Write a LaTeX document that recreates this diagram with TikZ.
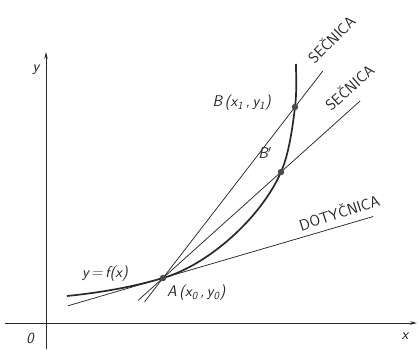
\documentclass[tikz,border=0pt]{standalone}
\usepackage{tikz}
\usetikzlibrary{arrows.meta,calc,positioning}
\definecolor{inkline}{RGB}{40,40,40}
\definecolor{inkdot}{RGB}{75,75,75}
\tikzset{
  axisline/.style={line width=0.9pt,inkline,-{Stealth[length=7pt,width=3.5pt]}},
  thinline/.style={line width=0.75pt,inkline},
  graphline/.style={line width=1.7pt,inkline},
  pointdot/.style={circle,fill=inkdot,inner sep=0pt,minimum size=6.5pt},
  lbl/.style={font=\fontsize{15.5}{18}\selectfont\sffamily\slshape,inkline,inner sep=1pt},
  linelbl/.style={font=\fontsize{15.5}{18}\selectfont\sffamily,inkline,inner sep=1pt}
}
\begin{document}
\begin{tikzpicture}[x=1pt,y=1pt]
  \useasboundingbox (-46,-26) rectangle (373,323);
  \coordinate (O) at (0,0);
  \coordinate (S) at (21,27);
  \coordinate (A) at (117,45);
  \coordinate (Bp) at (235,151);
  \coordinate (B) at (249,216);
  \coordinate (E) at (250,259);
  % axes
  \draw[axisline] (-41,0) -- (371,0);
  \draw[axisline] (0,-26) -- (0,271);
  % secants and tangent through A
  \draw[thinline] ($(A)!-0.14!(B)$) -- ($(A)!1.21!(B)$);
  \draw[thinline] ($(A)!-0.21!(Bp)$) -- ($(A)!1.67!(Bp)$);
  \draw[thinline] ($(A)+(196.3:99)$) -- ($(A)+(16.3:219)$);
  % graph of f
  \draw[graphline] (S) .. controls (60,31) and (90,37) .. (A)
    .. controls (162,58) and (215,105) .. (Bp)
    .. controls (243,169) and (246.6,196) .. (B)
    .. controls (251,232) and (250,246) .. (E);
  \foreach \P in {A,B,Bp}{\node[pointdot] (dot\P) at (\P) {};}
  \node[lbl] (ylbl) at (-10,253) {y};
  \node[lbl] (xlbl) at (359,-13) {x};
  \node[lbl] (olbl) at (-16,-15) {0};
  \node[lbl] (flbl) at (59,49) {y\,=\,f(x)};
  \node[lbl,anchor=west] (Albl) at (120,30) {A\,(x\textsubscript{0}\,,\,y\textsubscript{0})};
  \node[lbl,anchor=east] (Blbl) at (226,220) {B\,(x\textsubscript{1}\,,\,y\textsubscript{1})};
  \node[lbl] (Bplbl) at (219,170) {B$^{\prime}$};
  \node[linelbl,rotate=45] (sec1) at (285,284) {SEČNICA};
  \node[linelbl,rotate=42] (sec2) at (303,236) {SEČNICA};
  \node[linelbl,rotate=18] (tlbl) at (293,111) {DOTYČNICA};
\end{tikzpicture}
\end{document}
